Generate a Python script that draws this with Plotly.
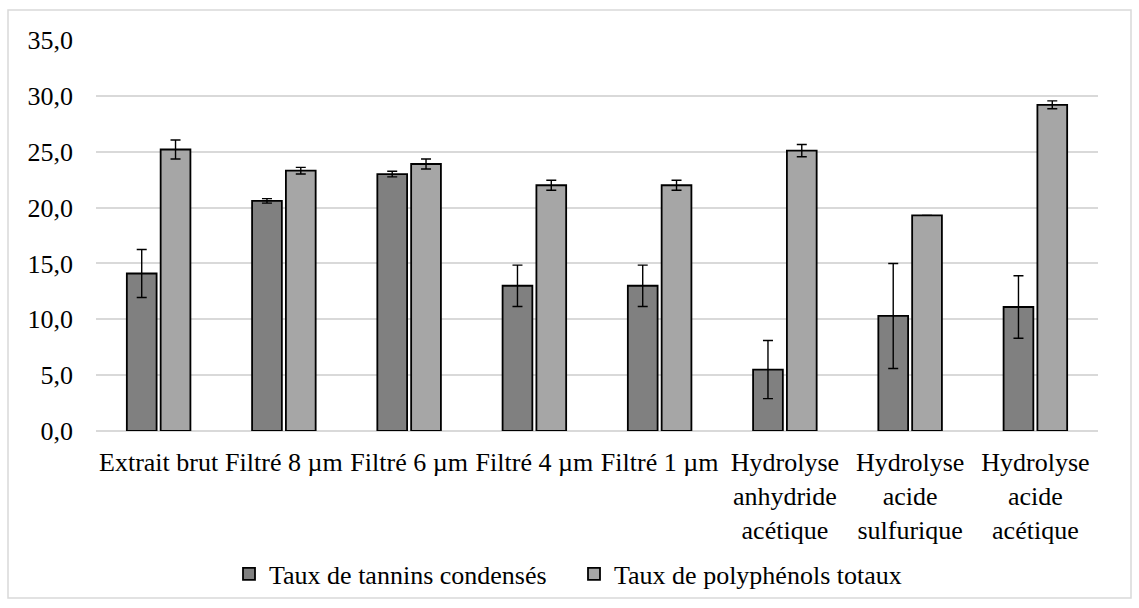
import plotly.graph_objects as go

categories = ["Extrait brut", "Filtré 8 µm", "Filtré 6 µm", "Filtré 4 µm", "Filtré 1 µm",
              "Hydrolyse<br>anhydride<br>acétique", "Hydrolyse<br>acide<br>sulfurique",
              "Hydrolyse<br>acide<br>acétique"]
tannins = [14.1, 20.6, 23.0, 13.0, 13.0, 5.5, 10.3, 11.1]
tannins_err = [2.15, 0.2, 0.25, 1.85, 1.85, 2.6, 4.7, 2.8]
polyphenols = [25.2, 23.3, 23.9, 22.0, 22.0, 25.1, 19.3, 29.2]
polyphenols_err = [0.85, 0.3, 0.45, 0.45, 0.45, 0.55, 0.0, 0.35]
series_names = ["Taux de tannins condensés", "Taux de polyphénols totaux"]

FONT = "Liberation Serif"
FS = 26

fig = go.Figure()
fig.add_trace(go.Bar(
    x=categories, y=tannins, name=series_names[0],
    marker=dict(color="#808080", line=dict(color="black", width=1.8)),
    error_y=dict(type="data", array=tannins_err, visible=True, color="black", thickness=1.4, width=5),
))
fig.add_trace(go.Bar(
    x=categories, y=polyphenols, name=series_names[1],
    marker=dict(color="#a6a6a6", line=dict(color="black", width=1.8)),
    error_y=dict(type="data", array=polyphenols_err, visible=True, color="black", thickness=1.4, width=5),
))

L, R, T, B = 96, 41, 40, 177
W, H = 1139, 608
pw, ph = W - L - R, H - T - B

def px_x(p):
    return (p - L) / pw

def px_y(p):
    return (H - B - p) / ph

fig.update_layout(
    width=W, height=H,
    margin=dict(l=L, r=R, t=T, b=B, autoexpand=False),
    paper_bgcolor="white", plot_bgcolor="white",
    barmode="group", bargap=0.46, bargroupgap=0.12,
    separators=", ",
    font=dict(family=FONT, size=FS, color="black"),
    showlegend=True,
    legend=dict(orientation="h", x=px_x(229), xanchor="left", y=px_y(574), yanchor="middle",
                font=dict(family=FONT, size=FS, color="black"), traceorder="normal",
                itemwidth=30, entrywidth=300, entrywidthmode="pixels",
                bgcolor="rgba(0,0,0,0)"),
    xaxis=dict(showgrid=False, showline=False, ticks="", tickangle=0, automargin=False,
               tickfont=dict(family=FONT, size=FS, color="black"), ticklabelstandoff=13),
    yaxis=dict(range=[0, 35], dtick=5, tickformat=".1f", showgrid=True, gridcolor="#d9d9d9",
               gridwidth=1.5, zeroline=True, zerolinecolor="#d9d9d9", zerolinewidth=1.5,
               showline=False, ticks="", ticklabelstandoff=22, automargin=False,
               tickfont=dict(family=FONT, size=FS, color="black")),
    shapes=[dict(type="rect", xref="paper", yref="paper",
                 x0=px_x(8), x1=px_x(1131), y0=px_y(598), y1=px_y(10),
                 line=dict(color="#d9d9d9", width=1.5), fillcolor="rgba(0,0,0,0)", layer="below")],
)

fig.write_html("out.html", config={"displayModeBar": False},
               post_script="document.body.style.margin='0';")
